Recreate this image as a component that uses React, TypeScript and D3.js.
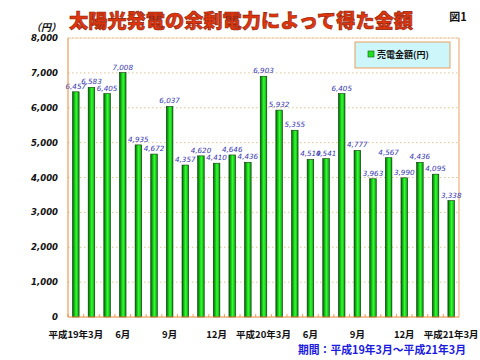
import React from "react";
import * as d3 from "d3";

const months = [
  "H19-3","H19-4","H19-5","H19-6","H19-7","H19-8","H19-9","H19-10","H19-11","H19-12","H20-1","H20-2",
  "H20-3","H20-4","H20-5","H20-6","H20-7","H20-8","H20-9","H20-10","H20-11","H20-12","H21-1","H21-2","H21-3",
];
const values = [
  6457, 6583, 6405, 7008, 4935, 4672, 6037, 4357, 4620, 4410, 4646, 4436,
  6903, 5932, 5355, 4519, 4541, 6405, 4777, 3963, 4567, 3990, 4436, 4095, 3338,
];
const xLabels: { idx: number; text: string }[] = [
  { idx: 0, text: "平成19年3月" },
  { idx: 3, text: "6月" },
  { idx: 6, text: "9月" },
  { idx: 9, text: "12月" },
  { idx: 12, text: "平成20年3月" },
  { idx: 15, text: "6月" },
  { idx: 18, text: "9月" },
  { idx: 21, text: "12月" },
  { idx: 24, text: "平成21年3月" },
];
const yTicks = [0, 1000, 2000, 3000, 4000, 5000, 6000, 7000, 8000];

const title = "太陽光発電の余剰電力によって得た金額";
const legendLabel = "売電金額(円)";
const footer = "期間：平成19年3月～平成21年3月";

export default function App() {
  const W = 480, H = 360;
  const left = 68, right = 459, top = 38, bottom = 317;
  const x = d3.scaleBand<string>().domain(months).range([left, right]).paddingInner(0.58).paddingOuter(0.29);
  const xb = d3.scaleBand<string>().domain(months).range([left, right]);
  const y = d3.scaleLinear().domain([0, 8000]).range([bottom, top]);
  const fmt = d3.format(",");
  const cjk = "'Noto Sans CJK JP', 'Noto Sans', sans-serif";
  const orange = "#e8893a";

  return (
    <svg width={W} height={H} style={{ position: "absolute", left: 0, top: 0, background: "#fff" }}>
      <defs>
        <linearGradient id="barg" x1="0" x2="1" y1="0" y2="0">
          <stop offset="0" stopColor="#0a5a0a" />
          <stop offset="0.25" stopColor="#10b010" />
          <stop offset="0.55" stopColor="#33ff33" />
          <stop offset="0.85" stopColor="#18c018" />
          <stop offset="1" stopColor="#0a6a0a" />
        </linearGradient>
      </defs>
      <rect x={0} y={0} width={W} height={H} fill="#fff" />
      {/* title */}
      <text x={69} y={28} fontFamily={cjk} fontWeight={900} fontSize={19.5} fill="#e0360e"
        stroke="#8a2008" strokeWidth={0.6} textLength={344} lengthAdjust="spacingAndGlyphs">{title}</text>
      <text x={458} y={21} fontFamily={cjk} fontWeight={700} fontSize={11} fill="#111" textAnchor="middle">図1</text>
      <text x={46} y={31} fontFamily={cjk} fontWeight={700} fontStyle="italic" fontSize={10} fill="#111" textAnchor="middle">（円）</text>

      {/* grid */}
      {yTicks.filter(t => t > 0).map(t => (
        <line key={"g" + t} x1={left} x2={right} y1={y(t)} y2={y(t)} stroke="#d8b878" strokeWidth={0.8} strokeDasharray="1.5,2.5" />
      ))}
      {/* plot border */}
      <line x1={left} x2={right} y1={top} y2={top} stroke="#f0c8a0" strokeWidth={0.8} />
      <line x1={right} x2={right} y1={top} y2={bottom} stroke={orange} strokeWidth={0.8} />

      {/* bars */}
      {values.map((v, i) => (
        <rect key={"b" + i} x={x(months[i])!} y={y(v)} width={x.bandwidth()} height={bottom - y(v)}
          fill="url(#barg)" stroke="#0a3a0a" strokeWidth={0.6} />
      ))}
      {/* value labels */}
      {values.map((v, i) => (
        <text key={"v" + i} x={x(months[i])! + x.bandwidth() / 2} y={y(v) - 3} textAnchor="middle"
          fontFamily="'DejaVu Sans', sans-serif" fontStyle="italic" fontSize={7.2} fill="#3535b0">{fmt(v)}</text>
      ))}

      {/* axes */}
      <line x1={left} x2={left} y1={top} y2={bottom} stroke={orange} strokeWidth={1} />
      <line x1={left} x2={right} y1={bottom} y2={bottom} stroke={orange} strokeWidth={1} />
      {months.map((m, i) => (
        <line key={"t" + i} x1={xb(m)!} x2={xb(m)!} y1={bottom} y2={bottom - 3} stroke={orange} strokeWidth={0.8} />
      ))}
      {yTicks.map(t => (
        <text key={"y" + t} x={58} y={y(t) + 3} textAnchor="end" fontFamily="'DejaVu Sans', sans-serif"
          fontStyle="italic" fontWeight={700} fontSize={8.5} fill="#111">{fmt(t)}</text>
      ))}
      {xLabels.map(l => (
        <text key={"x" + l.idx} x={xb(months[l.idx])! + xb.bandwidth() / 2} y={338} textAnchor="middle"
          fontFamily={cjk} fontWeight={700} fontSize={9.5} fill="#111">{l.text}</text>
      ))}

      {/* legend */}
      <rect x={355} y={42} width={95} height={26} fill="#ccf6fa" stroke={orange} strokeWidth={0.8} />
      <rect x={368} y={51} width={6} height={6} fill="#22dd22" stroke="#0a5a0a" strokeWidth={0.6} />
      <text x={377} y={57.5} fontFamily={cjk} fontWeight={700} fontSize={9} fill="#111">{legendLabel}</text>

      {/* footer */}
      <text x={298} y={354} fontFamily={cjk} fontWeight={700} fontSize={11} fill="#1a1ae0" textLength={168} lengthAdjust="spacingAndGlyphs">{footer}</text>
    </svg>
  );
}
